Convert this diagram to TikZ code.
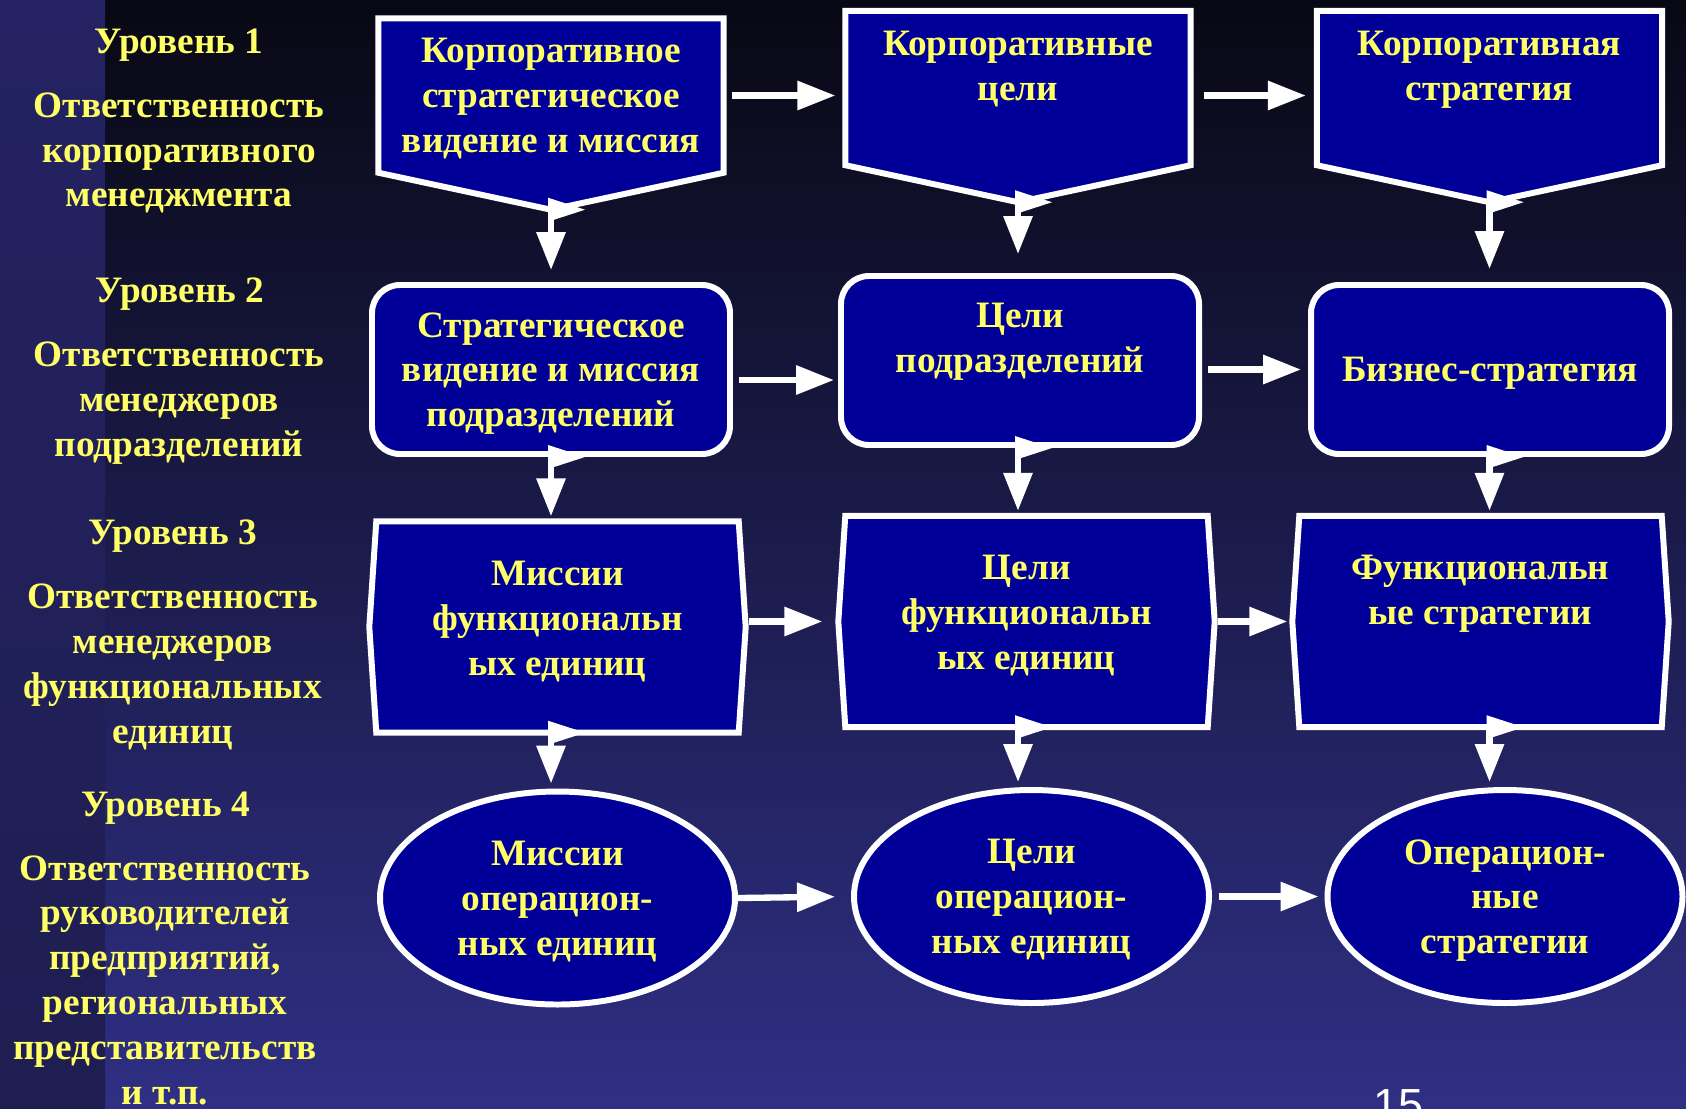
\documentclass[tikz,border=0pt]{standalone}
\usepackage{fontspec}
\setmainfont{Liberation Serif}
\newfontfamily\pagefont{Liberation Sans}
\usetikzlibrary{positioning,calc,backgrounds,arrows.meta,shapes.geometric}

\definecolor{boxblue}{RGB}{0,0,153}
\definecolor{txtyellow}{RGB}{255,255,102}
\definecolor{bgtop}{RGB}{8,8,20}
\definecolor{bgbot}{RGB}{47,47,133}
\definecolor{striptop}{RGB}{36,34,98}
\definecolor{stripbot}{RGB}{30,30,82}

\tikzset{
  lbl/.style={text=txtyellow, font=\bfseries\fontsize{10.6}{12.75}\selectfont, align=center, inner sep=0pt},
  boxtxt/.style={lbl, text depth=0cm},
  shapeline/.style={draw=white, fill=boxblue, line width=1.7pt},
  pentbox/.style={boxtxt, minimum width=3.44cm, minimum height=1.53cm},
  roundbox/.style={boxtxt, shapeline, rounded corners=0.28cm, minimum width=3.58cm, minimum height=1.69cm},
  hexbox/.style={boxtxt, minimum width=3.75cm, minimum height=2.10cm, text depth=0.18cm},
  ovalbox/.style={boxtxt, shapeline, ellipse, minimum width=3.55cm, minimum height=2.13cm, text depth=-0.03cm},
  link/.style={white, line width=1.8pt, -{Triangle[length=0.38cm, width=0.28cm]}},
  startflag/.pic={\fill[white] (-0.03,0.12) -- (0.34,0) -- (-0.03,-0.12) -- cycle;}
}

\begin{document}
\begin{tikzpicture}[line join=miter]
  % ---- background
  \useasboundingbox (0,0) rectangle (16.86,-11.08);
  \begin{scope}[on background layer]
    \shade[top color=bgtop, bottom color=bgbot] (0,0) rectangle (16.86,-11.08);
    \shade[top color=striptop, middle color=black, bottom color=stripbot] (0,0) rectangle (1.05,-11.08);
  \end{scope}

  % ---- levels
  \node[lbl] (lvl1) at (1.79,-0.45) {Уровень 1};
  \node[lbl] (resp1) at (1.79,-1.53) {Ответственность\\корпоративного\\менеджмента};
  \node[lbl] (lvl2) at (1.80,-2.94) {Уровень 2};
  \node[lbl] (resp2) at (1.79,-4.03) {Ответственность\\менеджеров\\подразделений};
  \node[lbl] (lvl3) at (1.726,-5.36) {Уровень 3};
  \node[lbl] (resp3) at (1.726,-6.67) {Ответственность\\менеджеров\\функциональных\\единиц};
  \node[lbl] (lvl4) at (1.656,-8.08) {Уровень 4};
  \node[lbl] (resp4) at (1.65,-9.80) {Ответственность\\руководителей\\предприятий,\\региональных\\представительств\\и т.п.};

  % ---- level 1
  \node[pentbox] (a1) at (5.51,-0.955) {Корпоративное\\стратегическое\\видение и миссия};
  \node[pentbox] (b1) at (10.18,-0.88) {Корпоративные\\цели\\~};
  \node[pentbox] (c1) at (14.895,-0.88) {Корпоративная\\стратегия\\~};

  % ---- level 2
  \node[roundbox] (a2) at (5.51,-3.695) {Стратегическое\\видение и миссия\\подразделений};
  \node[roundbox] (b2) at (10.20,-3.605) {Цели\\подразделений\\~};
  \node[roundbox] (c2) at (14.90,-3.695) {Бизнес-стратегия};

  % ---- level 3
  \node[hexbox] (a3) at (5.575,-6.27) {Миссии\\функциональн\\ых единиц};
  \node[hexbox] (b3) at (10.265,-6.215) {Цели\\функциональн\\ых единиц};
  \node[hexbox] (c3) at (14.805,-6.215) {Функциональн\\ые стратегии\\~};

  % ---- level 4
  \node[ovalbox] (a4) at (5.575,-8.98) {Миссии\\операцион-\\ных единиц};
  \node[ovalbox] (b4) at (10.315,-8.965) {Цели\\операцион-\\ных единиц};
  \node[ovalbox] (c4) at (15.05,-8.965) {Операцион-\\ные\\стратегии};

  % outlines behind the texts
  \begin{scope}[on background layer]
    \foreach \n in {a1,b1,c1}{
      \coordinate (\n-tip) at ($(\n.south)+(0,-0.37)$);
      \draw[shapeline] (\n.north west) -- (\n.north east) -- (\n.south east)
        -- (\n-tip) -- (\n.south west) -- cycle;
    }
    \foreach \n in {a3,b3,c3}{
      \draw[shapeline] ($(\n.north west)+(0.07,0)$) -- ($(\n.north east)+(-0.07,0)$)
        -- (\n.east) -- ($(\n.south east)+(-0.07,0)$) -- ($(\n.south west)+(0.07,0)$)
        -- (\n.west) -- cycle;
    }
  \end{scope}

  % ---- horizontal links
  \coordinate (a2-out) at ([yshift=-0.105cm]a2.east);
  \draw[link, shorten <=0.08cm, shorten >=0.10cm] (a1.east) -- (b1.west |- a1.east);
  \draw[link, shorten <=0.13cm, shorten >=0.11cm] (b1.east |- a1.east) -- (c1.west |- a1.east);
  \draw[link, shorten <=0.06cm, shorten >=0.04cm] (a2-out) -- (a2-out -| b2.west);
  \draw[link, shorten <=0.06cm, shorten >=0.07cm] (b2.east |- c2.west) -- (c2.west);
  \draw[link, shorten <=0.03cm, shorten >=0.16cm] (a3.east |- b3.west) -- (b3.west);
  \draw[link, shorten <=0.03cm, shorten >=0.05cm] (b3.east) -- (c3.west);
  \draw[link, shorten >=0.16cm] (a4.east) -- (b4.west);
  \draw[link, shorten <=0.07cm, shorten >=0.06cm] (b4.east) -- (c4.west);

  % ---- vertical links
  \foreach \col/\gap in {a/0.12cm,b/0.19cm,c/0.13cm}{
    \draw[link, shorten >=\gap] (\col1-tip) -- (\col2.north -| \col1-tip);
    \draw[link, shorten >=0.05cm] (\col2.south -| \col1-tip) -- (\col3.north -| \col1-tip);
    \draw[link, shorten >=0.05cm] (\col3.south -| \col1-tip) -- (\col4.north -| \col1-tip);
    \pic at (\col1-tip) {startflag};
    \pic at (\col2.south -| \col1-tip) {startflag};
    \pic at (\col3.south -| \col1-tip) {startflag};
  }

  % ---- page number
  \node[text=white, font=\pagefont\fontsize{12.8}{14}\selectfont, anchor=base west, inner sep=0pt]
    (pagenum) at (13.73,-11.20) {15};
\end{tikzpicture}
\end{document}
